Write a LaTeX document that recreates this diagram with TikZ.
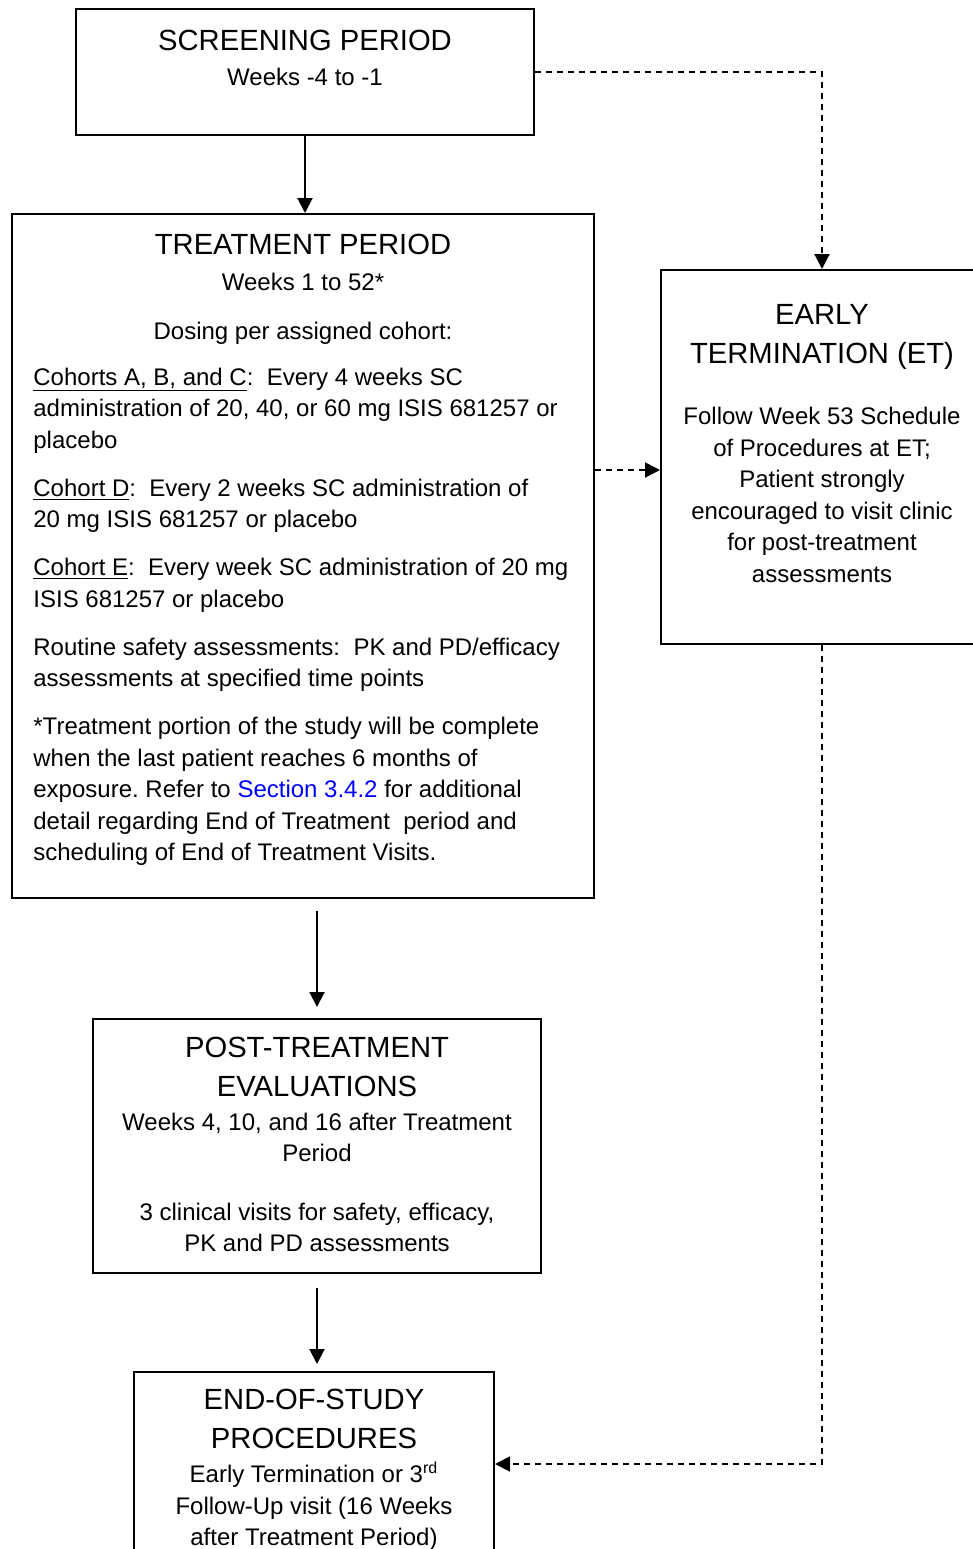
\documentclass[tikz,border=0pt]{standalone}
\usepackage{fontspec}
\setmainfont{Liberation Sans}
\frenchspacing
\usetikzlibrary{arrows.meta}
\begin{document}
\begin{tikzpicture}[x=0.5pt,y=-0.5pt]
      \tikzset{box/.style={draw=black, line width=1pt, fill=none, inner sep=0pt},
        title/.style={font=\fontsize{14.6}{19.5}\selectfont, align=center, anchor=base, inner sep=0pt},
        body/.style={font=\fontsize{12}{15.75}\selectfont, align=center, anchor=base, inner sep=0pt},
        arr/.style={line width=1pt, -{Triangle[length=7.5pt,width=7.5pt]}},
        dasharr/.style={arr, dash pattern=on 3pt off 2.5pt}}
      \useasboundingbox (0,0) rectangle (973,1549);
      % boxes
      \node[box, minimum width=229pt, minimum height=63pt] (screen) at (305,72) {};
      \node[box, minimum width=291pt, minimum height=342pt] (treat) at (303,556) {};
      \node[box, minimum width=161pt, minimum height=187pt] (et) at (822,457) {};
      \node[box, minimum width=224pt, minimum height=127pt] (post) at (317,1146) {};
      \node[box, minimum width=180pt, minimum height=92pt] (eos) at (314,1464) {};
      % screening (multi-line nodes sit on their last baseline)
      \node[title] (screentitle) at (305,50) {SCREENING PERIOD};
      \node[body] (screenweeks) at (305,85) {Weeks -4 to -1};
      % treatment
      \node[title] (treattitle) at (303,254) {TREATMENT PERIOD};
      \node[body] (treatweeks) at (303,290) {Weeks 1 to 52*};
      \node[body] (dosing) at (303,339) {Dosing per assigned cohort:};
      \node[body, align=left, anchor=base west] (cohorts) at (33,860.5) {%
        \underline{Cohorts A, B, and C}:~ Every 4 weeks SC\\
        administration of 20, 40, or 60 mg ISIS 681257 or\\
        placebo\\[8.25pt]
        \underline{Cohort D}:~ Every 2 weeks SC administration of\\
        20 mg ISIS 681257 or placebo\\[8.25pt]
        \underline{Cohort E}:~ Every week SC administration of 20 mg\\
        ISIS 681257 or placebo\\[8.25pt]
        Routine safety assessments:~ PK and PD/efficacy\\
        assessments at specified time points\\[8.25pt]
        *Treatment portion of the study will be complete\\
        when the last patient reaches 6 months of\\
        exposure. Refer to \textcolor{blue}{Section 3.4.2} for additional\\
        detail regarding End of Treatment~ period and\\
        scheduling of End of Treatment Visits.};
      % early termination
      \node[title] (ettitle) at (822,363.5) {EARLY\\TERMINATION (ET)};
      \node[body] (etbody) at (822,582) {Follow Week 53 Schedule\\of Procedures at ET;\\Patient strongly\\encouraged to visit clinic\\for post-treatment\\assessments};
      % post-treatment
      \node[title] (posttitle) at (317,1096) {POST-TREATMENT\\EVALUATIONS};
      \node[body] (postweeks) at (317,1161.5) {Weeks 4, 10, and 16 after Treatment\\Period};
      \node[body] (postvisits) at (317,1251.5) {3 clinical visits for safety, efficacy,\\PK and PD assessments};
      % end of study
      \node[title] (eostitle) at (314,1448.5) {END-OF-STUDY\\PROCEDURES};
      \node[body] (eosbody) at (314,1545.5) {Early Termination or 3\textsuperscript{rd}\\Follow-Up visit (16 Weeks\\after Treatment Period)};
      % connectors
      \path ([yshift=-6.5pt]et.west) coordinate (etin);
      \draw[arr] (screen.south) -- (screen.south |- treat.north);
      \draw[arr, shorten <=6pt, shorten >=5.5pt] (post.north |- treat.south) -- (post.north);
      \draw[arr, shorten <=7pt, shorten >=3.5pt] (post.south) -- (post.south |- eos.north);
      \draw[dasharr] (screen.east) -| (et.north);
      \draw[dasharr] (treat.east |- etin) -- (etin);
      \draw[dasharr] (et.south) |- (eos.east);
    \end{tikzpicture}
\end{document}
